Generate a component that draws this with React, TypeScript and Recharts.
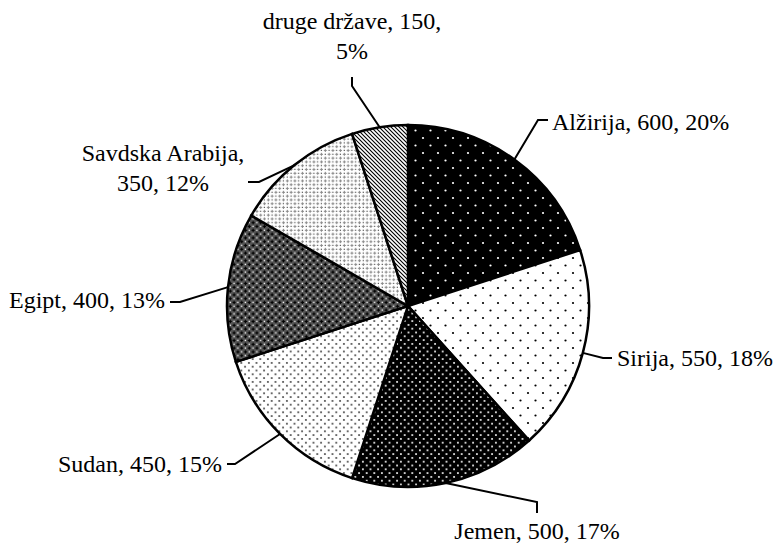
import { PieChart, Pie, Cell } from "recharts";

const countries = ["Alžirija", "Sirija", "Jemen", "Sudan", "Egipt", "Savdska Arabija", "druge države"];
const counts = [600, 550, 500, 450, 400, 350, 150];
const fills = ["pAlz", "pSir", "pJem", "pSud", "pEgi", "pSav", "pDru"];

// label placement relative to pie centre: elbow, line end, text anchor, text position
const labelLayout = [
  { ex: 130, ey: -186, lx: 140, ly: -186, tx: 144, ty: -184, anchor: "start", wrap: 0 },
  { ex: 195, ey: 52, lx: 204, ly: 52, tx: 209, ty: 52, anchor: "start", wrap: 0 },
  { ex: 129, ey: 196, lx: 129, ly: 207, tx: 129, ty: 225, anchor: "middle", wrap: 0 },
  { ex: -173, ey: 158, lx: -181, ly: 158, tx: -186, ty: 158, anchor: "end", wrap: 0 },
  { ex: -228, ey: -4, lx: -238, ly: -4, tx: -243, ty: -6, anchor: "end", wrap: 0 },
  { ex: -149, ey: -124, lx: -160, ly: -124, tx: -245, ty: -138, anchor: "middle", wrap: 1 },
  { ex: -56, ey: -220, lx: -56, ly: -229, tx: -56, ty: -270, anchor: "middle", wrap: 2 },
];

const data = countries.map((name, i) => ({ name, value: counts[i] }));
const RAD = Math.PI / 180;

function renderLabel(props: any) {
  const { cx, cy, midAngle, outerRadius, index, value, percent, name } = props;
  const lay = labelLayout[index];
  const sx = cx + outerRadius * Math.cos(-midAngle * RAD);
  const sy = cy + outerRadius * Math.sin(-midAngle * RAD);
  const parts = [name, String(value), `${Math.round(percent * 100)}%`];
  const lines = lay.wrap
    ? [parts.slice(0, lay.wrap).join(", ") + ",", parts.slice(lay.wrap).join(", ")]
    : [parts.join(", ")];
  const lh = 30;
  const y0 = cy + lay.ty - ((lines.length - 1) * lh) / 2;
  return (
    <g key={`lbl-${index}`}>
      <polyline
        points={`${sx},${sy} ${cx + lay.ex},${cy + lay.ey} ${cx + lay.lx},${cy + lay.ly}`}
        fill="none"
        stroke="#000"
        strokeWidth={2}
      />
      <text
        x={cx + lay.tx}
        y={y0}
        textAnchor={lay.anchor}
        dominantBaseline="central"
        fontFamily="'Liberation Serif', 'Times New Roman', serif"
        fontSize={24}
        fill="#000"
      >
        {lines.map((l, i) => (
          <tspan key={i} x={cx + lay.tx} dy={i === 0 ? 0 : lh}>
            {l}
          </tspan>
        ))}
      </text>
    </g>
  );
}

export default function App() {
  return (
    <div style={{ position: "absolute", left: 0, top: 0, width: 774, height: 546, background: "#fff" }}>
      <PieChart width={774} height={546} margin={{ top: 0, right: 0, bottom: 0, left: 0 }}>
        <defs>
          <pattern id="pAlz" width="15" height="15" patternUnits="userSpaceOnUse">
            <rect width="15" height="15" fill="#000" />
            <circle cx="3" cy="3" r="1.1" fill="#fff" />
            <circle cx="10.5" cy="10.5" r="1.1" fill="#fff" />
          </pattern>
          <pattern id="pSir" width="15" height="15" patternUnits="userSpaceOnUse">
            <rect width="15" height="15" fill="#fff" />
            <circle cx="3" cy="3" r="1.1" fill="#000" />
            <circle cx="10.5" cy="10.5" r="1.1" fill="#000" />
          </pattern>
          <pattern id="pJem" width="7.6" height="7.6" patternUnits="userSpaceOnUse">
            <rect width="7.6" height="7.6" fill="#000" />
            <circle cx="1.9" cy="1.9" r="1" fill="#fff" />
            <circle cx="5.7" cy="5.7" r="1" fill="#fff" />
          </pattern>
          <pattern id="pSud" width="7.6" height="7.6" patternUnits="userSpaceOnUse">
            <rect width="7.6" height="7.6" fill="#fff" />
            <circle cx="1.9" cy="1.9" r="1.05" fill="#444" />
            <circle cx="5.7" cy="5.7" r="1.05" fill="#444" />
          </pattern>
          <pattern id="pEgi" width="7.6" height="7.6" patternUnits="userSpaceOnUse">
            <rect width="7.6" height="7.6" fill="#555" />
            <rect x="0.6" y="1.7" width="3.4" height="1.2" fill="#000" />
            <rect x="1.7" y="0.6" width="1.2" height="3.4" fill="#000" />
            <rect x="4.4" y="5.5" width="3.4" height="1.2" fill="#000" />
            <rect x="5.5" y="4.4" width="1.2" height="3.4" fill="#000" />
            <rect x="5.4" y="1.6" width="1.3" height="1.3" fill="#fff" />
            <rect x="1.6" y="5.4" width="1.3" height="1.3" fill="#fff" />
          </pattern>
          <pattern id="pSav" width="7.6" height="7.6" patternUnits="userSpaceOnUse">
            <rect width="7.6" height="7.6" fill="#fff" />
            <rect x="0.8" y="1.8" width="3" height="1" fill="#888" />
            <rect x="1.8" y="0.8" width="1" height="3" fill="#888" />
            <rect x="4.6" y="5.6" width="3" height="1" fill="#888" />
            <rect x="5.6" y="4.6" width="1" height="3" fill="#888" />
            <rect x="5.5" y="1.7" width="1" height="1" fill="#000" />
            <rect x="1.7" y="5.5" width="1" height="1" fill="#000" />
          </pattern>
          <pattern id="pDru" width="4" height="4" patternUnits="userSpaceOnUse">
            <rect width="4" height="4" fill="#fff" />
            <path d="M-1,-1 L5,5 M-1,3 L1,5 M3,-1 L5,1" stroke="#000" strokeWidth="1.1" />
          </pattern>
        </defs>
        <Pie
          data={data}
          dataKey="value"
          nameKey="name"
          cx={408}
          cy={306}
          outerRadius={181}
          startAngle={90}
          endAngle={-270}
          stroke="#000"
          strokeWidth={2.5}
          label={renderLabel}
          labelLine={false}
          isAnimationActive={false}
        >
          {data.map((d, i) => (
            <Cell key={d.name} fill={`url(#${fills[i]})`} />
          ))}
        </Pie>
      </PieChart>
    </div>
  );
}
